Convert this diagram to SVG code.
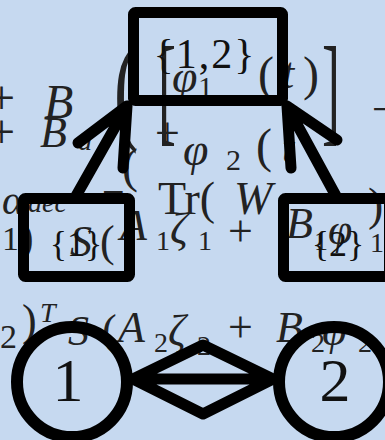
<svg xmlns="http://www.w3.org/2000/svg" width="385" height="440" viewBox="0 0 385 440">
<style>
.bg{font-family:"Liberation Serif","DejaVu Serif",serif;fill:#222}
.it{font-style:italic}
.lbl{font-family:"Liberation Serif","DejaVu Serif",serif;fill:#111;text-anchor:middle}
.box{fill:none;stroke:#000;stroke-width:11;stroke-linejoin:round}
.edge{fill:none;stroke:#000;stroke-width:11;stroke-linecap:round;stroke-linejoin:round}
</style>
<rect width="385" height="440" fill="#c6d9f0"/>
<g id="background-math">
<text class="bg" x="-12" y="114" font-size="48">+</text>
<text class="bg it" x="44" y="118" font-size="48">B</text>
<text class="bg" x="-12" y="148" font-size="48">+</text>
<text class="bg it" x="40" y="147" font-size="44">B</text>
<text class="bg it" x="78" y="150" font-size="28">â</text>
<text class="bg" transform="translate(114,128) scale(0.6,1)" font-size="120">(</text>
<text class="bg" transform="translate(158,130) scale(0.45,1)" font-size="120">[</text>
<text class="bg" transform="translate(322,130) scale(0.45,1)" font-size="120">]</text>
<text class="bg it" x="172" y="92" font-size="46">φ</text>
<text class="bg" x="198" y="97" font-size="30">1</text>
<text class="bg" x="258" y="90" font-size="48">(</text>
<text class="bg it" x="282" y="88" font-size="44">t</text>
<text class="bg" x="303" y="90" font-size="48">)</text>
<text class="bg" x="372" y="124" font-size="44">−</text>
<text class="bg" x="155" y="148" font-size="44">+</text>
<text class="bg it" x="183" y="165" font-size="46">φ</text>
<text class="bg" x="226" y="170" font-size="30">2</text>
<text class="bg" x="256" y="162" font-size="48">(</text>
<text class="bg it" x="282" y="162" font-size="44">t</text>
<text class="bg" x="122" y="182" font-size="48">(</text>
<text class="bg it" x="2" y="214" font-size="42">α</text>
<text class="bg it" x="28" y="212" font-size="28">dec</text>
<text class="bg" x="102" y="210" font-size="40">=</text>
<text class="bg" x="158" y="214" font-size="46">Tr(</text>
<text class="bg it" x="234" y="214" font-size="46">W</text>
<text class="bg" x="368" y="220" font-size="46">)</text>
<text class="bg" x="2" y="250" font-size="34">1</text>
<text class="bg" x="19" y="252" font-size="44">)</text>
<text class="bg it" x="70" y="256" font-size="44">S</text>
<text class="bg" x="100" y="256" font-size="44">(</text>
<text class="bg it" x="120" y="240" font-size="44">A</text>
<text class="bg" x="156" y="250" font-size="28">1</text>
<text class="bg it" x="170" y="243" font-size="44">ζ</text>
<text class="bg" x="198" y="250" font-size="28">1</text>
<text class="bg" x="228" y="246" font-size="44">+</text>
<text class="bg it" x="286" y="238" font-size="44">B</text>
<text class="bg" x="314" y="250" font-size="28">1</text>
<text class="bg it" x="328" y="244" font-size="44">φ</text>
<text class="bg" x="370" y="252" font-size="28">1</text>
<text class="bg" x="0" y="348" font-size="34">2</text>
<text class="bg" x="22" y="335" font-size="44">)</text>
<text class="bg it" x="40" y="322" font-size="28">T</text>
<text class="bg it" x="68" y="345" font-size="42">S</text>
<text class="bg" x="102" y="345" font-size="44">(</text>
<text class="bg it" x="118" y="342" font-size="44">A</text>
<text class="bg" x="154" y="352" font-size="28">2</text>
<text class="bg it" x="168" y="345" font-size="44">ζ</text>
<text class="bg" x="197" y="355" font-size="28">2</text>
<text class="bg" x="228" y="342" font-size="44">+</text>
<text class="bg it" x="276" y="342" font-size="44">B</text>
<text class="bg" x="311" y="352" font-size="28">2</text>
<text class="bg it" x="322" y="345" font-size="44">φ</text>
<text class="bg" x="358" y="352" font-size="28">2</text>
</g>
<g id="connectors">
<path class="edge" d="M76,196 L127,106 M78,143 L127,106 L123,168"/>
<path class="edge" d="M336,196 L287,106 M337,140 L287,106 L291,168"/>
<path class="edge" d="M133,379 L203,345 L273,379 L203,414 Z M133,379 L273,379"/>
</g>
<g id="node-12">
<rect class="box" x="133.5" y="12.5" width="149" height="88" rx="2"/>
<text class="lbl" x="205" y="68" font-size="42" letter-spacing="2">{1,2}</text>
</g>
<g id="node-1">
<rect class="box" x="23.5" y="198.5" width="106" height="78" rx="2"/>
<text class="lbl" x="76" y="256" font-size="36">{1}</text>
</g>
<g id="node-2">
<rect class="box" x="283.5" y="198.5" width="106" height="78" rx="2"/>
<text class="lbl" x="338" y="256" font-size="36">{2}</text>
</g>
<g id="node-c1">
<circle cx="72" cy="382" r="55" fill="none" stroke="#000" stroke-width="12"/>
<text class="lbl" x="68" y="401" font-size="62">1</text>
</g>
<g id="node-c2">
<circle cx="334" cy="382" r="55" fill="none" stroke="#000" stroke-width="12"/>
<text class="lbl" x="335" y="401" font-size="62">2</text>
</g>
</svg>
